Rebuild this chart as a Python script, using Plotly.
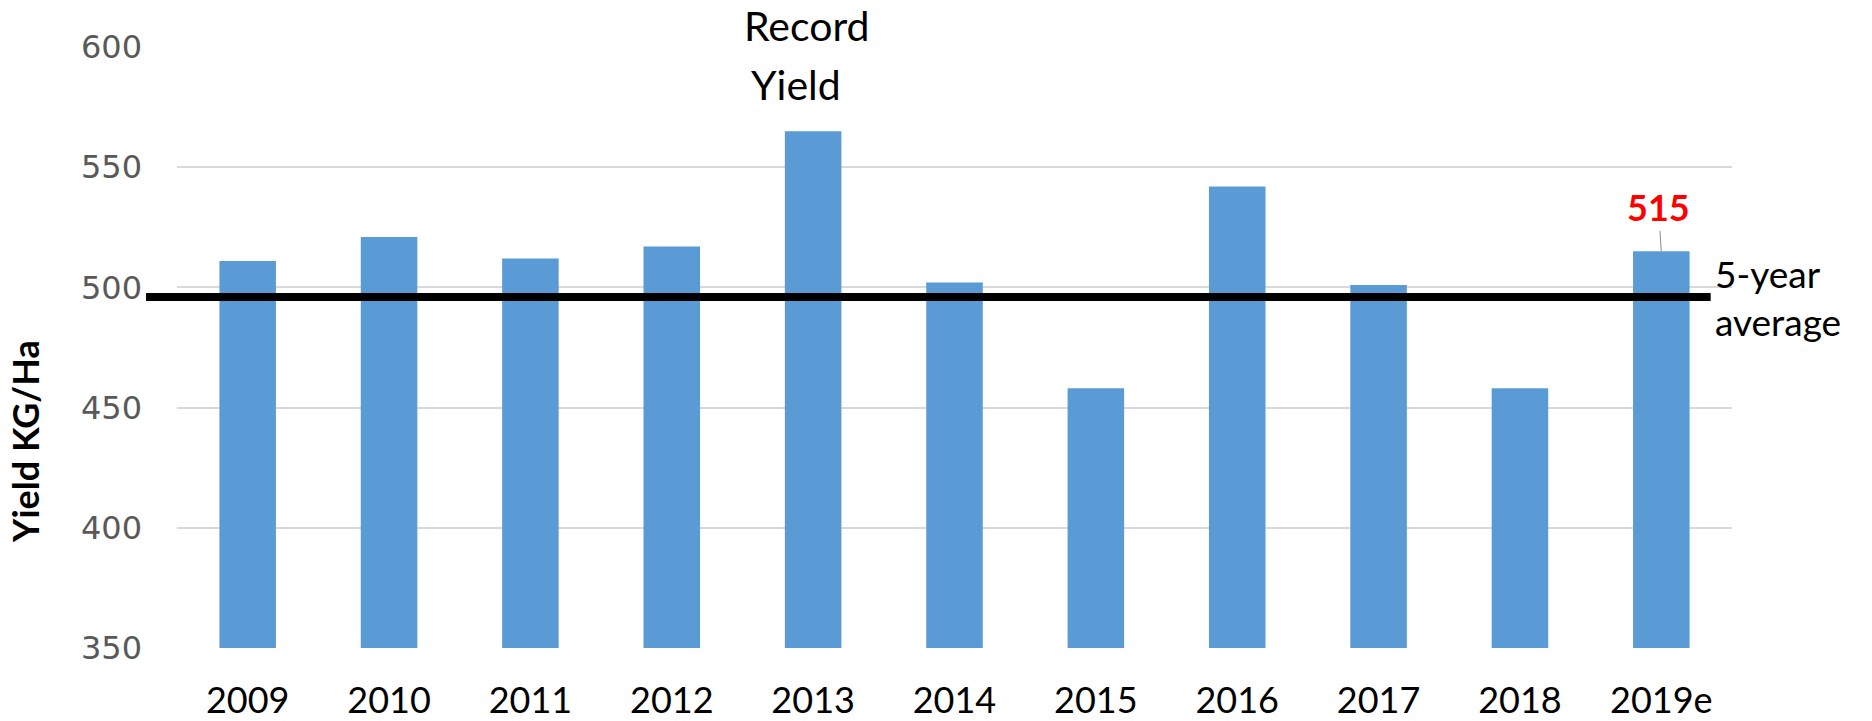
import plotly.graph_objects as go

years = ["2009", "2010", "2011", "2012", "2013", "2014", "2015", "2016", "2017", "2018", "2019e"]
yields = [511, 521, 512, 517, 565, 502, 458, 542, 501, 458, 515]
five_year_avg = 496
y_ticks = [350, 400, 450, 500, 550, 600]

fig = go.Figure()
fig.add_trace(go.Bar(
    x=years, y=yields,
    marker=dict(color="#5b9bd5", line=dict(width=0)),
    hoverinfo="x+y",
))

# page has an 8px body margin, so the figure is sized 16px smaller
fig.update_layout(
    width=1856, height=705,
    margin=dict(l=169, r=132, t=39, b=65, autoexpand=False),
    plot_bgcolor="white", paper_bgcolor="white",
    bargap=0.6,
    showlegend=False,
    xaxis=dict(
        type="category", automargin=False,
        showgrid=False, showline=False, zeroline=False,
        tickfont=dict(family="Lato", size=36, color="black"),
        ticks="", ticklabelstandoff=28,
    ),
    yaxis=dict(
        range=[350, 600], tickvals=y_ticks, automargin=False,
        showgrid=True, gridcolor="#d9d9d9", gridwidth=2,
        showline=False, zeroline=False,
        tickfont=dict(family="DejaVu Sans", size=32, color="#595959"),
        ticks="", ticklabelstandoff=34,
    ),
)

# 5-year average line
fig.add_shape(type="line", xref="paper", yref="y",
              x0=-0.0199, x1=0.9863, y0=five_year_avg, y1=five_year_avg,
              line=dict(color="black", width=8), layer="above")

fig.add_annotation(xref="paper", yref="y", x=0.988, y=five_year_avg,
                   xanchor="left", yanchor="middle", showarrow=False, align="left",
                   text="5-year<br>average",
                   font=dict(family="Lato", size=37, color="black"))

# Record Yield label
fig.add_annotation(xref="paper", yref="paper", x=0.405, y=1.035,
                   xanchor="center", yanchor="middle", showarrow=False,
                   text="Record", font=dict(family="Lato", size=41, color="black"))
fig.add_annotation(xref="paper", yref="paper", x=0.398, y=0.937,
                   xanchor="center", yanchor="middle", showarrow=False,
                   text="Yield", font=dict(family="Lato", size=41, color="black"))

# 515 data label
fig.add_annotation(x=years[-1], y=yields[-1], xref="x", yref="y",
                   text="<b>%d</b>" % yields[-1], showarrow=True,
                   ax=-3, ay=-44, arrowhead=0, arrowwidth=1, arrowcolor="#8c8c8c",
                   standoff=0,
                   font=dict(family="Lato", size=36, color="#ff0000"))

# Y axis title
fig.add_annotation(xref="paper", yref="paper", x=-0.0977, y=0.343,
                   xanchor="center", yanchor="middle", showarrow=False,
                   text="<b>Yield KG/Ha</b>", textangle=-90,
                   font=dict(family="Lato", size=36, color="black"))

fig.write_html("out.html")
